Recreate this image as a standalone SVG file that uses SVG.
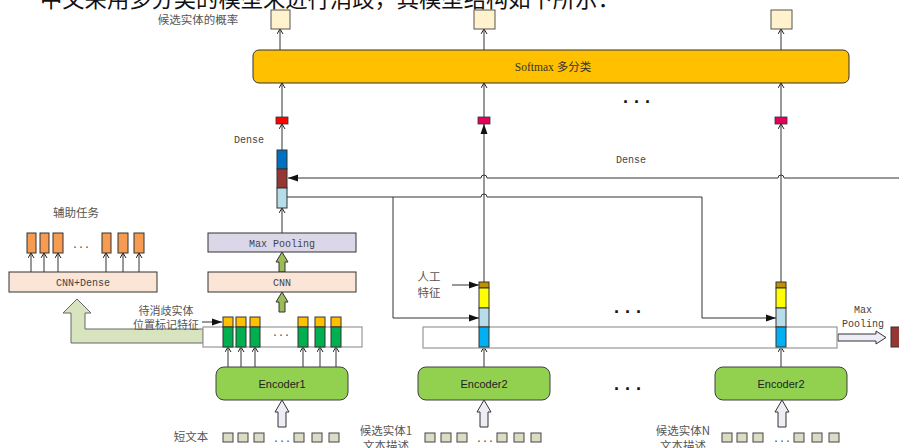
<svg xmlns="http://www.w3.org/2000/svg" width="899" height="448" viewBox="0 0 899 448">
<defs>
<marker id="ao" markerWidth="8" markerHeight="8" refX="6" refY="3.5" orient="auto" markerUnits="userSpaceOnUse"><path d="M1,0.5 L6,3.5 L1,6.5" fill="none" stroke="#222" stroke-width="1"/></marker>
<marker id="af" markerWidth="12" markerHeight="8" refX="10" refY="4" orient="auto" markerUnits="userSpaceOnUse"><path d="M0,0.5 L10,4 L0,7.5 z" fill="#111"/></marker>
</defs>
<style>
.ln{fill:none;stroke:#333;stroke-width:1}
.bx{stroke:#333;stroke-width:1}
.cn{font-family:"Noto Sans CJK SC",sans-serif;font-size:11.5px;fill:#555}
.mo{font-family:"Liberation Mono","Noto Sans CJK SC",monospace;font-size:10px;fill:#444}
.se{font-family:"Liberation Serif","Noto Sans CJK SC",serif;font-size:11.5px;fill:#333}
.sa{font-family:"Liberation Sans",sans-serif;font-size:11px;fill:#222}
.dots{font-family:"Liberation Sans",sans-serif;font-size:18px;font-weight:bold;fill:#111}
.sq{fill:#FFF2CC;stroke:#555;stroke-width:1}
.red{stroke:#333;stroke-width:0.8}
.org{fill:#F59B52;stroke:#333;stroke-width:1}
.yel{fill:#FFC000;stroke:#333;stroke-width:1}
.grn{fill:#00B050;stroke:#333;stroke-width:1}
.ws{fill:#DCDCC6;stroke:#444;stroke-width:1}
.enc{fill:#92D050;stroke:#404040;stroke-width:1}
.hol{fill:#EEECF4;stroke:#333;stroke-width:1}
.fat{fill:#9BBB59;stroke:#333;stroke-width:1}
.cont{fill:#fff;stroke:#A0A0A0;stroke-width:1.3}
.pch{fill:#FBE5D6;stroke:#333;stroke-width:1}
</style>

<text x="40" y="7" style="font-family:'Noto Sans CJK SC',sans-serif;font-size:22.3px;fill:#111">中文采用多分类的模型来进行消歧，其模型结构如下所示：</text>

<g id="connectors">
  <path class="ln" d="M280,50 V29" marker-end="url(#ao)"/>
  <path class="ln" d="M484,50 V29" marker-end="url(#ao)"/>
  <path class="ln" d="M781,50 V29" marker-end="url(#ao)"/>
  <path class="ln" d="M282,117 V83" marker-end="url(#ao)"/>
  <path class="ln" d="M484,117 V83" marker-end="url(#ao)"/>
  <path class="ln" d="M781,117 V83" marker-end="url(#ao)"/>
  <path class="ln" d="M282,150 V124" marker-end="url(#ao)"/>
  <path class="ln" d="M484,282 V124" marker-end="url(#af)"/>
  <path class="ln" d="M781,282 V124" marker-end="url(#ao)"/>
  <path class="ln" d="M282,233 V208" marker-end="url(#ao)"/>
  <path class="ln" d="M899,178 H784 a3,3 0 0 0 -6,0 H487 a3,3 0 0 0 -6,0 H288" marker-end="url(#af)"/>
  <path class="ln" d="M287,197 H481 a3,3 0 0 1 6,0 H702 V318 H776" marker-end="url(#af)"/>
  <path class="ln" d="M393,197 V318 H479" marker-end="url(#af)"/>
  <path class="ln" d="M452,285 H479" marker-end="url(#af)"/>
  <path class="ln" d="M202,322 H222" marker-end="url(#af)"/>
  <path class="ln" d="M31,272 V253" marker-end="url(#ao)"/>
  <path class="ln" d="M44,272 V253" marker-end="url(#ao)"/>
  <path class="ln" d="M58,272 V253" marker-end="url(#ao)"/>
  <path class="ln" d="M106,272 V253" marker-end="url(#ao)"/>
  <path class="ln" d="M123,272 V253" marker-end="url(#ao)"/>
  <path class="ln" d="M139,272 V253" marker-end="url(#ao)"/>
  <path class="ln" d="M228,367 V347" marker-end="url(#ao)"/>
  <path class="ln" d="M241,367 V347" marker-end="url(#ao)"/>
  <path class="ln" d="M255,367 V347" marker-end="url(#ao)"/>
  <path class="ln" d="M303,367 V347" marker-end="url(#ao)"/>
  <path class="ln" d="M320,367 V347" marker-end="url(#ao)"/>
  <path class="ln" d="M336,367 V347" marker-end="url(#ao)"/>
  <path class="ln" d="M484,367 V347" marker-end="url(#ao)"/>
  <path class="ln" d="M781,367 V347" marker-end="url(#ao)"/>
  <polygon class="fat" points="282,252 288,262 285,262 285,272 279,272 279,262 276,262"/>
  <polygon class="fat" points="282,292 288,302 285,302 285,312 279,312 279,302 276,302"/>
  <polygon points="77,299 91,313 85,313 85,329 203,329 203,343 71,343 71,313 63,313" fill="#D7E4BD" stroke="#666" stroke-width="1"/>
  <polygon class="hol" points="282,400 289,412 286,412 286,427 278,427 278,412 275,412"/>
  <polygon class="hol" points="484,400 491,412 488,412 488,427 480,427 480,412 477,412"/>
  <polygon class="hol" points="782,400 789,412 786,412 786,427 778,427 778,412 775,412"/>
  <polygon class="hol" points="838,334 876,334 876,331 886,337.5 876,344 876,341 838,341"/>
</g>

<g id="outputs">
  <rect class="sq" x="271" y="10" width="19" height="19"/>
  <rect class="sq" x="474" y="10" width="21" height="19"/>
  <rect class="sq" x="771" y="10" width="21" height="19"/>
  <text class="cn" x="198" y="24" text-anchor="middle">候选实体的概率</text>
</g>

<g id="softmax">
  <rect x="253" y="50" width="596" height="33" rx="6" fill="#FFC000" stroke="#333" stroke-width="1"/>
  <text class="se" x="553" y="71" text-anchor="middle">Softmax 多分类</text>
</g>

<g id="dense-units">
  <rect class="red" x="276" y="117" width="12" height="7" fill="#FF0000"/>
  <rect class="red" x="478" y="117" width="12" height="7" fill="#E6005C"/>
  <rect class="red" x="775" y="117" width="12" height="7" fill="#E6005C"/>
  <text class="mo" x="249" y="143" text-anchor="middle">Dense</text>
  <text class="mo" x="631" y="163" text-anchor="middle">Dense</text>
  <text class="dots" x="637" y="108" text-anchor="middle">· · ·</text>
</g>

<g id="vector1">
  <rect x="277" y="150" width="10" height="19" fill="#0070C0" stroke="#333"/>
  <rect x="277" y="169" width="10" height="19" fill="#953735" stroke="#333"/>
  <rect x="277" y="188" width="10" height="20" fill="#B7DEE8" stroke="#333"/>
</g>

<g id="maxpooling">
  <rect x="208" y="233" width="148" height="19" fill="#DCD7E8" stroke="#333"/>
  <text class="mo" x="282" y="246.5" text-anchor="middle">Max Pooling</text>
</g>

<g id="cnn">
  <rect class="pch" x="208" y="272" width="148" height="20"/>
  <text class="mo" x="282" y="286" text-anchor="middle">CNN</text>
</g>

<g id="aux">
  <text class="cn" x="76" y="217" text-anchor="middle">辅助任务</text>
  <rect class="org" x="27" y="233" width="9" height="20"/>
  <rect class="org" x="40" y="233" width="9" height="20"/>
  <rect class="org" x="53" y="233" width="10" height="20"/>
  <text class="mo" x="81" y="248" text-anchor="middle">...</text>
  <rect class="org" x="102" y="233" width="9" height="20"/>
  <rect class="org" x="118" y="233" width="10" height="20"/>
  <rect class="org" x="134" y="233" width="10" height="20"/>
  <rect class="pch" x="9" y="272" width="148" height="20"/>
  <text class="mo" x="83" y="286" text-anchor="middle">CNN+Dense</text>
</g>

<g id="mark-label">
  <text class="cn" x="166" y="315" text-anchor="middle" style="font-size:11px">待消歧实体</text>
  <text class="cn" x="166" y="329" text-anchor="middle" style="font-size:11px">位置标记特征</text>
</g>

<g id="seq1">
  <rect class="cont" x="203" y="327" width="159" height="20"/>
  <rect class="yel" x="223" y="317" width="10" height="10"/><rect class="grn" x="223" y="327" width="10" height="20"/>
  <rect class="yel" x="236" y="317" width="10" height="10"/><rect class="grn" x="236" y="327" width="10" height="20"/>
  <rect class="yel" x="250" y="317" width="10" height="10"/><rect class="grn" x="250" y="327" width="10" height="20"/>
  <text class="mo" x="281" y="336" text-anchor="middle">...</text>
  <rect class="yel" x="298" y="317" width="10" height="10"/><rect class="grn" x="298" y="327" width="10" height="20"/>
  <rect class="yel" x="315" y="317" width="10" height="10"/><rect class="grn" x="315" y="327" width="10" height="20"/>
  <rect class="yel" x="331" y="317" width="10" height="10"/><rect class="grn" x="331" y="327" width="10" height="20"/>
</g>

<g id="seq2">
  <rect class="cont" x="423" y="327" width="414" height="21"/>
  <text class="dots" x="628" y="318" text-anchor="middle">· · ·</text>
</g>

<g id="vector2">
  <rect x="479" y="282" width="10" height="6" fill="#BF9000" stroke="#333"/>
  <rect x="479" y="288" width="10" height="20" fill="#FFFF00" stroke="#333"/>
  <rect x="479" y="308" width="10" height="19" fill="#B7DEE8" stroke="#333"/>
  <rect x="479" y="327" width="10" height="20" fill="#00B0F0" stroke="#333"/>
  <text class="cn" x="429" y="281" text-anchor="middle">人工</text>
  <text class="cn" x="429" y="297" text-anchor="middle">特征</text>
</g>

<g id="vector3">
  <rect x="776" y="282" width="10" height="6" fill="#BF9000" stroke="#333"/>
  <rect x="776" y="288" width="10" height="20" fill="#FFFF00" stroke="#333"/>
  <rect x="776" y="308" width="10" height="19" fill="#B7DEE8" stroke="#333"/>
  <rect x="776" y="327" width="10" height="20" fill="#00B0F0" stroke="#333"/>
</g>

<g id="pool-out">
  <text class="mo" x="863" y="313" text-anchor="middle">Max</text>
  <text class="mo" x="863" y="327" text-anchor="middle">Pooling</text>
  <rect x="891" y="327" width="12" height="20" fill="#953735" stroke="#333"/>
</g>

<g id="encoder1">
  <rect class="enc" x="216" y="367" width="132" height="33" rx="8"/>
  <text class="sa" x="282" y="388" text-anchor="middle">Encoder1</text>
</g>
<g id="encoder2a">
  <rect class="enc" x="418" y="367" width="132" height="33" rx="8"/>
  <text class="sa" x="484" y="388" text-anchor="middle">Encoder2</text>
</g>
<g id="encoder2b">
  <rect class="enc" x="715" y="367" width="132" height="33" rx="8"/>
  <text class="sa" x="781" y="388" text-anchor="middle">Encoder2</text>
</g>
<text class="dots" x="628" y="395" text-anchor="middle">· · ·</text>

<g id="input1">
  <text class="cn" x="191" y="441" text-anchor="middle">短文本</text>
  <rect class="ws" x="223" y="433" width="10" height="9"/>
  <rect class="ws" x="238" y="433" width="10" height="9"/>
  <rect class="ws" x="254" y="433" width="10" height="9"/>
  <text class="mo" x="282" y="442" text-anchor="middle">...</text>
  <rect class="ws" x="294" y="433" width="10" height="9"/>
  <rect class="ws" x="312" y="433" width="10" height="9"/>
  <rect class="ws" x="329" y="433" width="10" height="9"/>
</g>
<g id="input2">
  <text class="cn" x="386" y="435" text-anchor="middle">候选实体1</text>
  <text class="cn" x="386" y="450" text-anchor="middle">文本描述</text>
  <rect class="ws" x="425" y="433" width="10" height="9"/>
  <rect class="ws" x="441" y="433" width="10" height="9"/>
  <rect class="ws" x="457" y="433" width="10" height="9"/>
  <text class="mo" x="485" y="442" text-anchor="middle">...</text>
  <rect class="ws" x="497" y="433" width="10" height="9"/>
  <rect class="ws" x="514" y="433" width="10" height="9"/>
  <rect class="ws" x="531" y="433" width="10" height="9"/>
</g>
<g id="input3">
  <text class="cn" x="683" y="435" text-anchor="middle">候选实体N</text>
  <text class="cn" x="683" y="450" text-anchor="middle">文本描述</text>
  <rect class="ws" x="722" y="433" width="10" height="9"/>
  <rect class="ws" x="737" y="433" width="10" height="9"/>
  <rect class="ws" x="753" y="433" width="10" height="9"/>
  <text class="mo" x="782" y="442" text-anchor="middle">...</text>
  <rect class="ws" x="794" y="433" width="10" height="9"/>
  <rect class="ws" x="812" y="433" width="10" height="9"/>
  <rect class="ws" x="829" y="433" width="10" height="9"/>
</g>
</svg>
